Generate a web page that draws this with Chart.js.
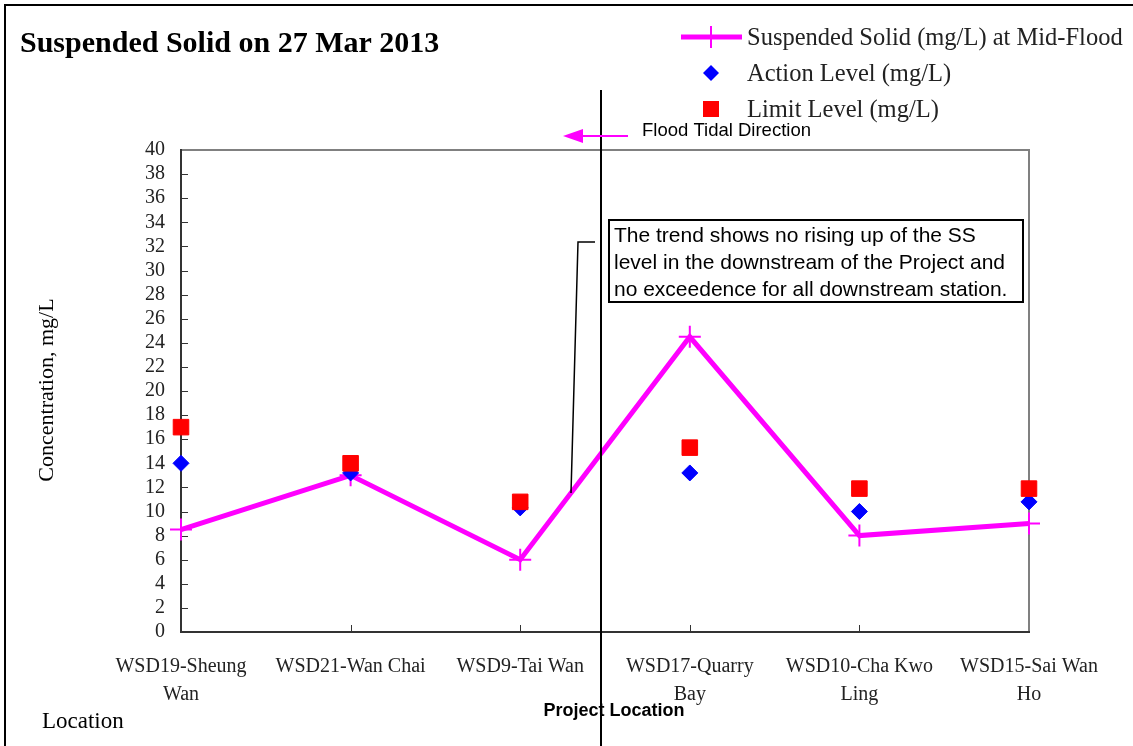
<!DOCTYPE html>
<html>
<head>
<meta charset="utf-8">
<script src="https://cdn.jsdelivr.net/npm/chart.js@4/dist/chart.umd.min.js"></script>
<style>
  html, body { margin: 0; padding: 0; background: #fff; }
  canvas { display: block; }
</style>
</head>
<body>
<canvas id="c" width="1133" height="746"></canvas>
<script>
// ---- Data ----
const categories = [
  ['WSD19-Sheung', 'Wan'],
  ['WSD21-Wan Chai'],
  ['WSD9-Tai Wan'],
  ['WSD17-Quarry', 'Bay'],
  ['WSD10-Cha Kwo', 'Ling'],
  ['WSD15-Sai Wan', 'Ho']
];
const suspendedSolid = [8.5, 13.0, 6.0, 24.5, 8.0, 9.0];
const actionLevel = [14.0, 13.2, 10.3, 13.2, 10.0, 10.8];
const limitLevel = [17.0, 14.0, 10.8, 15.3, 11.9, 11.9];
const yTickMin = 0, yTickMax = 40, yTickStep = 2;

const chartTitle = 'Suspended Solid on 27 Mar 2013';
const seriesNames = ['Suspended Solid (mg/L) at Mid-Flood', 'Action Level (mg/L)', 'Limit Level (mg/L)'];
const yTitle = 'Concentration, mg/L';
const xTitle = 'Location';
const annotationLines = [
  'The trend shows no rising up of the SS',
  'level in the downstream of the Project and',
  'no exceedence for all downstream station.'
];
const tidalLabel = 'Flood Tidal Direction';
const projectLabel = 'Project Location';

const SERIF = '"Liberation Serif", "Times New Roman", serif';
const SANS = '"Liberation Sans", Arial, sans-serif';
const MAGENTA = '#ff00ff';

const decor = {
  id: 'decor',
  beforeDatasetsDraw(chart) {
    const ctx = chart.ctx;
    const a = chart.chartArea;
    const xs = chart.scales.x, ys = chart.scales.y;
    ctx.save();
    // inner tick marks
    ctx.strokeStyle = '#333';
    ctx.lineWidth = 1;
    ctx.beginPath();
    ys.ticks.forEach((t, i) => {
      const py = Math.round(ys.getPixelForTick(i)) + 0.5;
      ctx.moveTo(a.left, py); ctx.lineTo(a.left + 7, py);
    });
    xs.ticks.forEach((t, i) => {
      const px = Math.round(xs.getPixelForTick(i)) + 0.5;
      ctx.moveTo(px, a.bottom); ctx.lineTo(px, a.bottom - 7);
    });
    ctx.stroke();
    // frame: top/right grey, left/bottom dark
    ctx.lineWidth = 2;
    ctx.strokeStyle = '#808080';
    ctx.beginPath();
    ctx.moveTo(a.left, a.top); ctx.lineTo(a.right, a.top); ctx.lineTo(a.right, a.bottom);
    ctx.stroke();
    ctx.strokeStyle = '#333';
    ctx.beginPath();
    ctx.moveTo(a.left, a.top - 1); ctx.lineTo(a.left, a.bottom); ctx.lineTo(a.right + 1, a.bottom);
    ctx.stroke();
    ctx.restore();
  },
  afterDraw(chart) {
    const ctx = chart.ctx;
    ctx.save();
    // outer border
    ctx.strokeStyle = '#000';
    ctx.lineWidth = 2;
    ctx.strokeRect(5, 5, 1140, 760);

    // title
    ctx.fillStyle = '#000';
    ctx.font = 'bold 30px ' + SERIF;
    ctx.textBaseline = 'alphabetic';
    ctx.textAlign = 'left';
    ctx.fillText(chartTitle, 20, 52);

    // legend
    ctx.font = '24.5px ' + SERIF;
    ctx.fillStyle = '#222';
    const lx = 747;
    const rows = [37, 73, 109];
    // SS line sample
    ctx.strokeStyle = MAGENTA;
    ctx.lineWidth = 5;
    ctx.beginPath(); ctx.moveTo(681, rows[0]); ctx.lineTo(742, rows[0]); ctx.stroke();
    ctx.lineWidth = 2;
    ctx.beginPath();
    ctx.moveTo(711, rows[0] - 11); ctx.lineTo(711, rows[0] + 11);
    ctx.stroke();
    // diamond
    ctx.fillStyle = '#0000ff';
    ctx.beginPath();
    ctx.moveTo(711, rows[1] - 8); ctx.lineTo(719, rows[1]); ctx.lineTo(711, rows[1] + 8); ctx.lineTo(703, rows[1]);
    ctx.closePath(); ctx.fill();
    // square
    ctx.fillStyle = '#ff0000';
    ctx.fillRect(703, rows[2] - 8, 16, 16);
    ctx.fillStyle = '#222';
    ctx.textBaseline = 'middle';
    seriesNames.forEach((n, i) => ctx.fillText(n, lx, rows[i] + 2));

    // y title
    ctx.save();
    ctx.translate(47, 390);
    ctx.rotate(-Math.PI / 2);
    ctx.textAlign = 'center';
    ctx.textBaseline = 'middle';
    ctx.font = '22px ' + SERIF;
    ctx.fillStyle = '#000';
    ctx.fillText(yTitle, 0, 0);
    ctx.restore();

    // x title
    ctx.font = '23px ' + SERIF;
    ctx.fillStyle = '#000';
    ctx.textAlign = 'left';
    ctx.textBaseline = 'alphabetic';
    ctx.fillText(xTitle, 42, 728);

    // project line
    ctx.strokeStyle = '#000';
    ctx.lineWidth = 2;
    ctx.beginPath(); ctx.moveTo(601, 90); ctx.lineTo(601, 746); ctx.stroke();
    ctx.font = 'bold 18px ' + SANS;
    ctx.textAlign = 'center';
    ctx.textBaseline = 'middle';
    ctx.fillText(projectLabel, 614, 711);

    // tidal arrow
    ctx.strokeStyle = MAGENTA;
    ctx.fillStyle = MAGENTA;
    ctx.lineWidth = 2;
    ctx.beginPath(); ctx.moveTo(578, 136); ctx.lineTo(628, 136); ctx.stroke();
    ctx.beginPath();
    ctx.moveTo(563, 136); ctx.lineTo(583, 129); ctx.lineTo(583, 143); ctx.closePath(); ctx.fill();
    ctx.fillStyle = '#000';
    ctx.font = '18.5px ' + SANS;
    ctx.textAlign = 'left';
    ctx.fillText(tidalLabel, 642, 131);

    // annotation box
    ctx.fillStyle = '#fff';
    ctx.fillRect(609, 220, 414, 82);
    ctx.strokeStyle = '#000';
    ctx.lineWidth = 2;
    ctx.strokeRect(609, 220, 414, 82);
    ctx.fillStyle = '#000';
    ctx.font = '21px ' + SANS;
    ctx.textBaseline = 'alphabetic';
    annotationLines.forEach((t, i) => ctx.fillText(t, 614, 242 + i * 27));
    // connector
    ctx.lineWidth = 1.5;
    ctx.beginPath();
    ctx.moveTo(595, 242); ctx.lineTo(578, 242); ctx.lineTo(571, 493);
    ctx.stroke();
    ctx.restore();
  }
};

new Chart(document.getElementById('c'), {
  type: 'line',
  data: {
    labels: categories,
    datasets: [
      {
        label: seriesNames[0],
        data: suspendedSolid,
        borderColor: MAGENTA,
        backgroundColor: MAGENTA,
        borderWidth: 5,
        pointStyle: 'cross',
        pointRadius: 11,
        pointBorderWidth: 2,
        pointBorderColor: MAGENTA,
        tension: 0,
        order: 2
      },
      {
        label: seriesNames[1],
        data: actionLevel,
        showLine: false,
        pointStyle: 'rectRot',
        pointRadius: 8,
        pointBackgroundColor: '#0000ff',
        pointBorderColor: '#0000ff',
        pointBorderWidth: 1,
        order: 1
      },
      {
        label: seriesNames[2],
        data: limitLevel,
        showLine: false,
        pointStyle: 'rect',
        pointRadius: 11,
        pointBackgroundColor: '#ff0000',
        pointBorderColor: '#ff0000',
        pointBorderWidth: 1,
        order: 0
      }
    ]
  },
  options: {
    responsive: false,
    devicePixelRatio: 1,
    animation: false,
    layout: { padding: { left: 0, top: 150, right: 104, bottom: 0 } },
    plugins: { legend: { display: false }, title: { display: false }, tooltip: { enabled: false } },
    scales: {
      x: {
        offset: false,
        grid: { display: false },
        border: { display: false },
        ticks: {
          autoSkip: false, maxRotation: 0, minRotation: 0, padding: 13,
          color: '#222', font: { family: SERIF, size: 20, lineHeight: '28px' }
        },
        afterFit(s) { s.height = 114; }
      },
      y: {
        min: yTickMin, max: yTickMax,
        grid: { display: false },
        border: { display: false },
        ticks: {
          stepSize: yTickStep, padding: 8, autoSkip: false,
          color: '#222', font: { family: SERIF, size: 20 }
        },
        afterFit(s) { s.width = 181; }
      }
    }
  },
  plugins: [decor]
});
</script>
</body>
</html>
